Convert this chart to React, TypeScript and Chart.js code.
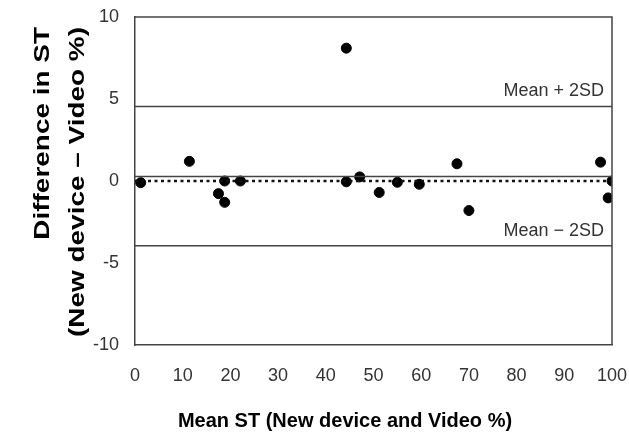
import React, { useEffect, useRef } from "react";
import { Chart, registerables } from "chart.js";
Chart.register(...registerables);

const meanST = [1.2, 11.4, 44.3, 17.5, 18.8, 18.8, 22.1, 44.3, 47.1, 51.2, 55.0, 59.6, 67.5, 70.0, 97.6, 100, 99.2];
const diffST = [-0.1, 1.2, 8.1, -0.77, 0, -1.3, 0, -0.05, 0.25, -0.7, -0.08, -0.2, 1.05, -1.8, 1.15, 0, -1.03];
const meanDiff = 0.28;
const upperLimit = 4.55;
const lowerLimit = -3.95;
const xTicks = [0, 10, 20, 30, 40, 50, 60, 70, 80, 90, 100];
const yTicks = [-10, -5, 0, 5, 10];
const limitLabels = ["Mean + 2SD", "Mean \u2212 2SD"];
const xTitle = "Mean ST (New device and Video %)";
const yTitle = ["Difference in ST", "(New device \u2013 Video %)"];

const AXIS = "#444";
const FONT = "'Liberation Sans', Arial, sans-serif";

export default function App() {
  const ref = useRef<HTMLCanvasElement | null>(null);
  useEffect(() => {
    if (!ref.current) return;
    const hline = (y: number, extra: any = {}) => ({
      type: "line" as const,
      data: [{ x: 0, y }, { x: 100, y }],
      borderColor: AXIS,
      borderWidth: 1.5,
      pointRadius: 0,
      ...extra,
    });
    const boxPlugin = {
      id: "boxAndLabels",
      afterDatasetsDraw(chart: any) {
        const { ctx, chartArea, scales } = chart;
        ctx.save();
        ctx.strokeStyle = AXIS;
        ctx.lineWidth = 1.5;
        ctx.beginPath();
        ctx.moveTo(chartArea.left, chartArea.top);
        ctx.lineTo(chartArea.right, chartArea.top);
        ctx.lineTo(chartArea.right, chartArea.bottom);
        ctx.stroke();
        // limit labels
        ctx.fillStyle = "#333";
        ctx.font = `18px ${FONT}`;
        ctx.textAlign = "right";
        ctx.textBaseline = "alphabetic";
        const xr = chartArea.right - 8;
        ctx.fillText(limitLabels[0], xr, scales.y.getPixelForValue(upperLimit) - 10);
        ctx.fillText(limitLabels[1], xr, scales.y.getPixelForValue(lowerLimit) - 10);
        // x title
        ctx.fillStyle = "#000";
        ctx.font = `bold 20px ${FONT}`;
        ctx.textAlign = "center";
        ctx.fillText(xTitle, 345, 427);
        // y title (rotated, stretched along its length as in the reference)
        ctx.font = `bold 22px ${FONT}`;
        const w2 = ctx.measureText(yTitle[1]).width;
        const stretch = 310 / w2;
        const xs = [43, 78];
        yTitle.forEach((t, i) => {
          ctx.save();
          ctx.translate(xs[i], 27);
          ctx.rotate(-Math.PI / 2);
          ctx.scale(stretch, 1);
          ctx.textAlign = "right";
          ctx.textBaseline = "middle";
          ctx.fillText(t, 0, 0);
          ctx.restore();
        });
        ctx.restore();
      },
    };
    const chart = new Chart(ref.current, {
      type: "scatter",
      data: {
        datasets: [
          hline(upperLimit),
          hline(lowerLimit),
          hline(meanDiff),
          hline(0, { borderDash: [3, 3.5], borderWidth: 2.5, borderColor: "#111" }),
          {
            type: "scatter",
            data: meanST.map((x, i) => ({ x, y: diffST[i] })),
            backgroundColor: "#000",
            borderColor: "#000",
            pointRadius: 5,
          },
        ],
      },
      options: {
        animation: false,
        responsive: false,
        devicePixelRatio: 1,
        layout: { padding: { top: 17, right: 17, left: 0, bottom: 0 } },
        plugins: { legend: { display: false }, tooltip: { enabled: false } },
        scales: {
          x: {
            type: "linear",
            min: 0,
            max: 100,
            afterBuildTicks: (s: any) => { s.ticks = xTicks.map((v) => ({ value: v })); },
            grid: { display: false, drawTicks: true, tickLength: 7, tickColor: AXIS, tickWidth: 1.5 },
            border: { color: AXIS, width: 1.5 },
            ticks: { color: "#333", font: { size: 18, family: FONT }, padding: 13, maxRotation: 0 },
            afterFit: (s: any) => { s.height = 87; s.paddingLeft = 0; s.paddingRight = 0; },
          },
          y: {
            type: "linear",
            min: -10,
            max: 10,
            afterBuildTicks: (s: any) => { s.ticks = yTicks.map((v) => ({ value: v })); },
            grid: { display: false, drawTicks: true, tickLength: 7, tickColor: AXIS, tickWidth: 1.5 },
            border: { color: AXIS, width: 1.5 },
            ticks: { color: "#333", font: { size: 18, family: FONT }, padding: 9 },
            afterFit: (s: any) => { s.width = 135; s.paddingTop = 0; s.paddingBottom = 0; },
          },
        },
      },
      plugins: [boxPlugin],
    } as any);
    return () => chart.destroy();
  }, []);
  return (
    <div style={{ position: "absolute", left: 0, top: 0, width: 629, height: 432, background: "#fff" }}>
      <canvas ref={ref} width={629} height={432} />
    </div>
  );
}
